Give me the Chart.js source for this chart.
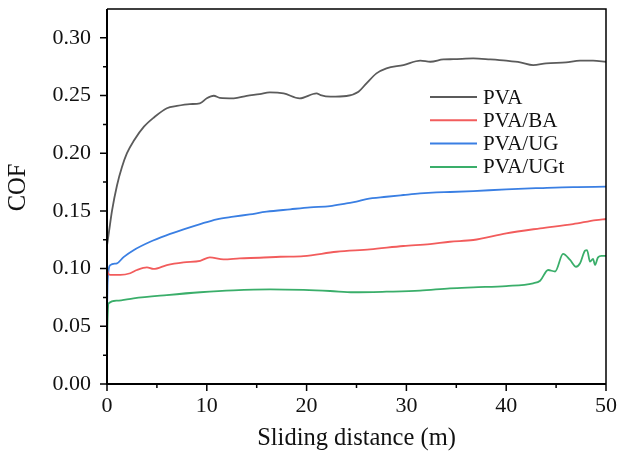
<!DOCTYPE html>
<html>
<head>
<meta charset="utf-8">
<script src="https://cdn.jsdelivr.net/npm/chart.js@4"></script>
<style>
  html, body { margin: 0; padding: 0; background: #fff; }
  #wrap { width: 619px; height: 459px; }
</style>
</head>
<body>
<div id="wrap"><canvas id="c" width="619" height="459"></canvas></div>
<script>
// ---- data ----
const seriesNames = ['PVA', 'PVA/BA', 'PVA/UG', 'PVA/UGt'];

const pvaX = [0, 0.2, 0.5, 1.0, 1.5, 2.0, 2.7, 3.7, 4.7, 6.0, 7.0, 8.3, 9.3, 10.0, 10.7, 11.3, 12.7, 14.0, 15.3, 16.3, 17.7, 19.3, 21.0, 21.4, 22.4, 24.0, 25.2, 26.0, 27.0, 28.0, 29.7, 31.4, 32.4, 33.7, 34.7, 36.7, 38.4, 40.0, 41.4, 42.7, 44.0, 46.0, 47.4, 48.7, 50.0];
const pvaY = [0.120, 0.132, 0.150, 0.172, 0.188, 0.200, 0.211, 0.223, 0.231, 0.239, 0.241, 0.2426, 0.2432, 0.2476, 0.2498, 0.248, 0.2476, 0.2498, 0.2513, 0.2528, 0.2519, 0.2476, 0.2519, 0.2504, 0.249, 0.2496, 0.2533, 0.2606, 0.2692, 0.2736, 0.2764, 0.2802, 0.2793, 0.2813, 0.2815, 0.2822, 0.2813, 0.2802, 0.2788, 0.2764, 0.2779, 0.2788, 0.2802, 0.2802, 0.2793];

const baX = [0, 0.1, 0.33, 1.33, 2.33, 3.0, 4.0, 4.66, 6.0, 7.67, 9.34, 10.3, 11.67, 13.3, 15.3, 17.35, 19.7, 23.0, 26.35, 29.7, 32.36, 34.36, 36.7, 40.0, 43.4, 46.7, 49.0, 50.0];
const baY = [0.100, 0.096, 0.0945, 0.0945, 0.096, 0.0988, 0.1011, 0.0997, 0.1031, 0.1055, 0.1068, 0.1098, 0.108, 0.1089, 0.1094, 0.1103, 0.1109, 0.1146, 0.1167, 0.1196, 0.1213, 0.1233, 0.1248, 0.1306, 0.1349, 0.1386, 0.1421, 0.143];

const ugX = [0, 0.05, 0.15, 0.33, 1.0, 1.66, 2.66, 4.33, 6.0, 7.67, 9.34, 11.0, 12.67, 14.3, 16.0, 18.35, 20.35, 22.35, 24.0, 25.0, 26.0, 28.0, 29.7, 31.36, 33.0, 34.4, 36.7, 40.0, 43.4, 46.7, 50.0];
const ugY = [0.060, 0.085, 0.098, 0.103, 0.1046, 0.110, 0.116, 0.1233, 0.129, 0.134, 0.1386, 0.1427, 0.145, 0.147, 0.1493, 0.1514, 0.1531, 0.1542, 0.1566, 0.158, 0.1603, 0.1623, 0.1638, 0.1652, 0.1661, 0.1664, 0.1672, 0.1687, 0.1698, 0.1707, 0.171];

const ugtX = [0, 0.03, 0.08, 0.16, 1.0, 2.66, 6.0, 9.34, 12.67, 16.35, 19.7, 22.35, 24.7, 28.0, 31.36, 34.36, 36.7, 40.0, 42.7, 43.4, 44.2, 44.9, 45.7, 46.4, 47.0, 47.4, 47.9, 48.1, 48.4, 48.7, 48.9, 49.2, 49.55, 50.0];
const ugtY = [0.015, 0.045, 0.062, 0.0699, 0.0722, 0.0743, 0.0771, 0.0795, 0.0812, 0.082, 0.0815, 0.0806, 0.0795, 0.080, 0.0809, 0.0829, 0.0838, 0.0849, 0.0873, 0.0895, 0.0988, 0.0975, 0.1127, 0.1075, 0.1016, 0.1046, 0.1155, 0.1161, 0.106, 0.1085, 0.1031, 0.1098, 0.111, 0.111];

const xMajorTicks = [0, 10, 20, 30, 40, 50];
const xMinorTicks = [5, 15, 25, 35, 45];
const yMajorTicks = [0, 0.05, 0.10, 0.15, 0.20, 0.25, 0.30];
const yMinorTicks = [0.025, 0.075, 0.125, 0.175, 0.225, 0.275];
const xTitle = 'Sliding distance (m)';
const yTitle = 'COF';

const colors = ['#5b5b5b', '#f25c5c', '#3a7fe3', '#3aae6a'];

// ---- build ----
function pts(xs, ys) { return xs.map((x, i) => ({ x: x, y: ys[i] })); }
const allX = [pvaX, baX, ugX, ugtX];
const allY = [pvaY, baY, ugY, ugtY];

const FONT = '"Liberation Serif", "Times New Roman", serif';

const datasets = seriesNames.map((n, i) => ({
  label: n,
  data: pts(allX[i], allY[i]),
  borderColor: colors[i],
  backgroundColor: colors[i],
  borderWidth: 1.8,
  pointRadius: 0,
  fill: false,
  tension: 0.3,
  cubicInterpolationMode: 'monotone'
}));

function noPad(s) { s.paddingTop = 0; s.paddingBottom = 0; s.paddingLeft = 0; s.paddingRight = 0; }

const framePlugin = {
  id: 'frame',
  afterDatasetsDraw(chart) {
    const ctx = chart.ctx, a = chart.chartArea;
    const xs = chart.scales.x, ys = chart.scales.y;
    ctx.save();
    ctx.strokeStyle = '#000';
    // top / right frame
    ctx.lineWidth = 1.5;
    ctx.beginPath();
    ctx.moveTo(a.left, a.top); ctx.lineTo(a.right, a.top); ctx.lineTo(a.right, a.bottom);
    ctx.stroke();
    // left / bottom axis
    ctx.lineWidth = 2;
    ctx.beginPath();
    ctx.moveTo(a.left, a.top); ctx.lineTo(a.left, a.bottom); ctx.lineTo(a.right, a.bottom);
    ctx.stroke();
    // ticks
    ctx.lineWidth = 1.5;
    ctx.beginPath();
    yMajorTicks.forEach(v => { const p = ys.getPixelForValue(v); ctx.moveTo(a.left - 7, p); ctx.lineTo(a.left, p); });
    yMinorTicks.forEach(v => { const p = ys.getPixelForValue(v); ctx.moveTo(a.left - 4, p); ctx.lineTo(a.left, p); });
    xMajorTicks.forEach(v => { const p = xs.getPixelForValue(v); ctx.moveTo(p, a.bottom); ctx.lineTo(p, a.bottom + 7); });
    xMinorTicks.forEach(v => { const p = xs.getPixelForValue(v); ctx.moveTo(p, a.bottom); ctx.lineTo(p, a.bottom + 4); });
    ctx.stroke();
    // y title
    ctx.fillStyle = '#111';
    ctx.font = '24.5px ' + FONT;
    ctx.textAlign = 'center';
    ctx.textBaseline = 'middle';
    ctx.translate(19, 187.5);
    ctx.rotate(-Math.PI / 2);
    ctx.fillText(yTitle, 0, 0);
    ctx.setTransform(1, 0, 0, 1, 0, 0);
    // legend
    const lx0 = 430, lx1 = 477, tx = 483, y0 = 97, dy = 23.3;
    ctx.font = '21px ' + FONT;
    ctx.textBaseline = 'middle';
    ctx.textAlign = 'left';
    seriesNames.forEach((n, i) => {
      const y = y0 + i * dy;
      ctx.strokeStyle = colors[i];
      ctx.lineWidth = 2;
      ctx.beginPath(); ctx.moveTo(lx0, y); ctx.lineTo(lx1, y); ctx.stroke();
      ctx.fillStyle = '#111';
      ctx.fillText(n, tx, y + 1);
    });
    ctx.restore();
  }
};

new Chart(document.getElementById('c'), {
  type: 'line',
  data: { datasets: datasets },
  options: {
    responsive: false,
    animation: false,
    layout: { padding: { left: 0, right: 13, top: 9, bottom: 0 } },
    plugins: { legend: { display: false }, tooltip: { enabled: false } },
    scales: {
      x: {
        type: 'linear', min: 0, max: 50,
        afterBuildTicks: s => { s.ticks = xMajorTicks.map(v => ({ value: v })); },
        afterFit: s => { s.height = 75; noPad(s); },
        grid: { display: false, drawTicks: false },
        border: { display: false },
        ticks: { color: '#111', font: { family: FONT, size: 22 }, padding: 9 },
        title: { display: true, text: xTitle, color: '#111', font: { family: FONT, size: 24.5 }, padding: { top: 0, bottom: 6 } }
      },
      y: {
        type: 'linear', min: 0, max: 0.325,
        afterBuildTicks: s => { s.ticks = yMajorTicks.map(v => ({ value: v })); },
        afterFit: s => { s.width = 107; noPad(s); },
        grid: { display: false, drawTicks: false },
        border: { display: false },
        ticks: { color: '#111', font: { family: FONT, size: 22 }, padding: 16, callback: v => v.toFixed(2) },
        title: { display: false }
      }
    }
  },
  plugins: [framePlugin]
});
</script>
</body>
</html>
